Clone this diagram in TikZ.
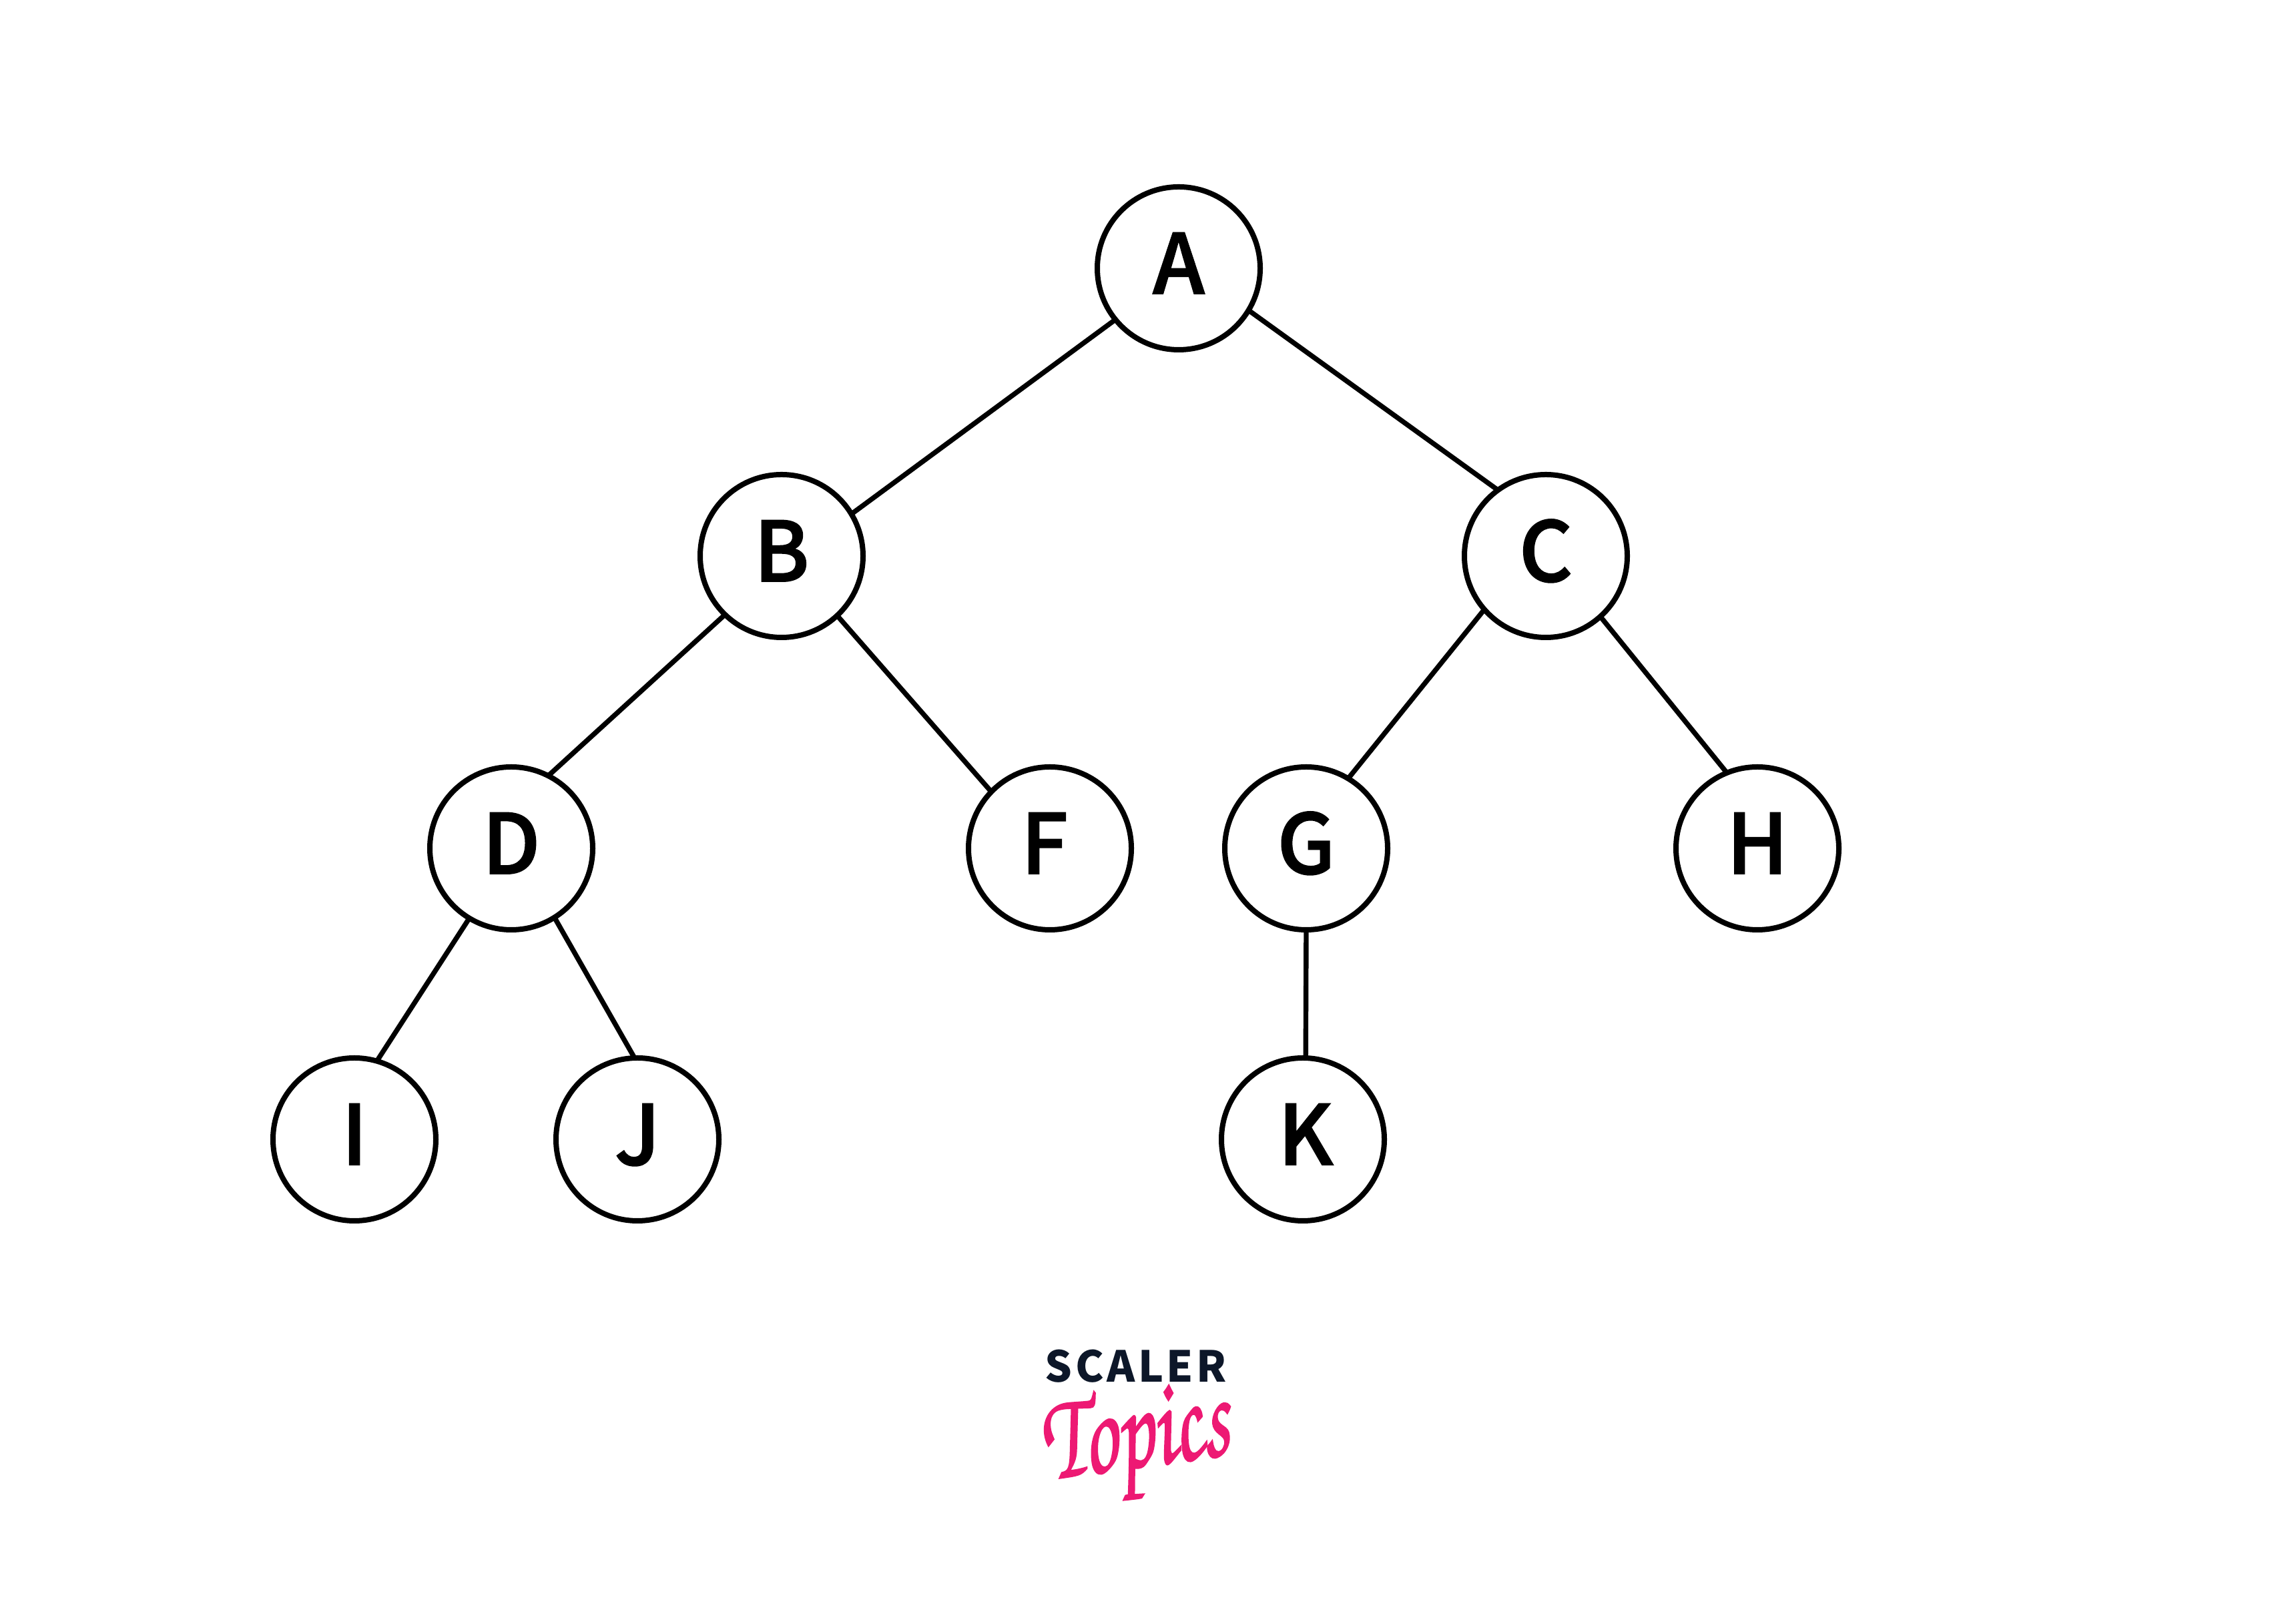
\documentclass[tikz,border=0pt]{standalone}
\usepackage[T1]{fontenc}
\usepackage{fontspec}
\newfontfamily\labelfont{Noto Sans CJK SC Medium}
\newfontfamily\scalerfont[LetterSpace=7]{Noto Sans CJK SC}
\usepackage{tikz}
\usetikzlibrary{positioning,shapes,calc}
\definecolor{scalerink}{rgb}{0.05,0.09,0.16}
\definecolor{topicspink}{rgb}{0.93,0.10,0.45}
\newcommand{\heavytext}[2]{\special{pdf:code 2 Tr #1 w}#2\special{pdf:code 0 Tr}}
\tikzset{
  treenode/.style={draw=black,fill=white,circle,line width=2bp,inner sep=0pt,outer sep=0pt,
    minimum size=61bp,font=\fontsize{31bp}{34bp}\labelfont,text height=22.5bp,text depth=3.5bp},
  treeedge/.style={draw=black,line width=1.85bp}
}
\begin{document}
\begin{tikzpicture}
  \useasboundingbox [fill=white] (0bp,0bp) rectangle (850.25bp,608.25bp);
  % Node: A
  \node [treenode] (A) at (441.5bp,507.75bp) {\heavytext{0.5}{A}};
  % Node: B
  \node [treenode] (B) at (292.75bp,400bp) {\heavytext{0.5}{B}};
  % Node: C
  \node [treenode] (C) at (579bp,400bp) {\heavytext{0.5}{C}};
  % Node: D
  \node [treenode] (D) at (191.5bp,290.5bp) {\heavytext{0.5}{D}};
  % Node: F
  \node [treenode] (F) at (393.25bp,290.5bp) {\heavytext{0.5}{F}\kern4bp};
  % Node: G
  \node [treenode] (G) at (489.25bp,290.5bp) {\heavytext{0.5}{G}};
  % Node: H
  \node [treenode] (H) at (658.25bp,290.5bp) {\heavytext{0.5}{H}};
  % Node: I
  \node [treenode] (I) at (132.75bp,181.5bp) {\heavytext{0.5}{I}};
  % Node: J
  \node [treenode] (J) at (238.75bp,181.5bp) {\heavytext{0.5}{J}};
  % Node: K
  \node [treenode] (K) at (488bp,181.5bp) {\kern2bp\heavytext{0.5}{K}};
  % Edge: A -> B
  \draw [treeedge] (A.219) -- (B.31);
  % Edge: A -> C
  \draw [treeedge] (A.-31) -- (C.126);
  % Edge: B -> D
  \draw [treeedge] (B.226) -- (D.63);
  % Edge: B -> F
  \draw [treeedge] (B.-47) -- (F.136);
  % Edge: C -> G
  \draw [treeedge] (C.221) -- (G.59);
  % Edge: C -> H
  \draw [treeedge] (C.-48) -- (H.112);
  % Edge: D -> I
  \draw [treeedge] (D.239) -- (I.74);
  % Edge: D -> J
  \draw [treeedge] (D.-58) -- (J.92);
  % Edge: G -> K
  \draw [treeedge] (G.-90) -- (K.88);
  % Logo
  \node [text=scalerink,inner sep=0pt,font=\fontsize{16bp}{18bp}\scalerfont\bfseries] (scaler) at (425.5bp,96.5bp) {SCALER};
  \node [text=topicspink,inner sep=0pt,rotate=8,xscale=0.88,yscale=1.3,font=\fontsize{36bp}{40bp}\usefont{T1}{pzc}{mb}{it}] (topics) at (425.5bp,67bp) {\heavytext{0.5}{Topics}};
\end{tikzpicture}
\end{document}
